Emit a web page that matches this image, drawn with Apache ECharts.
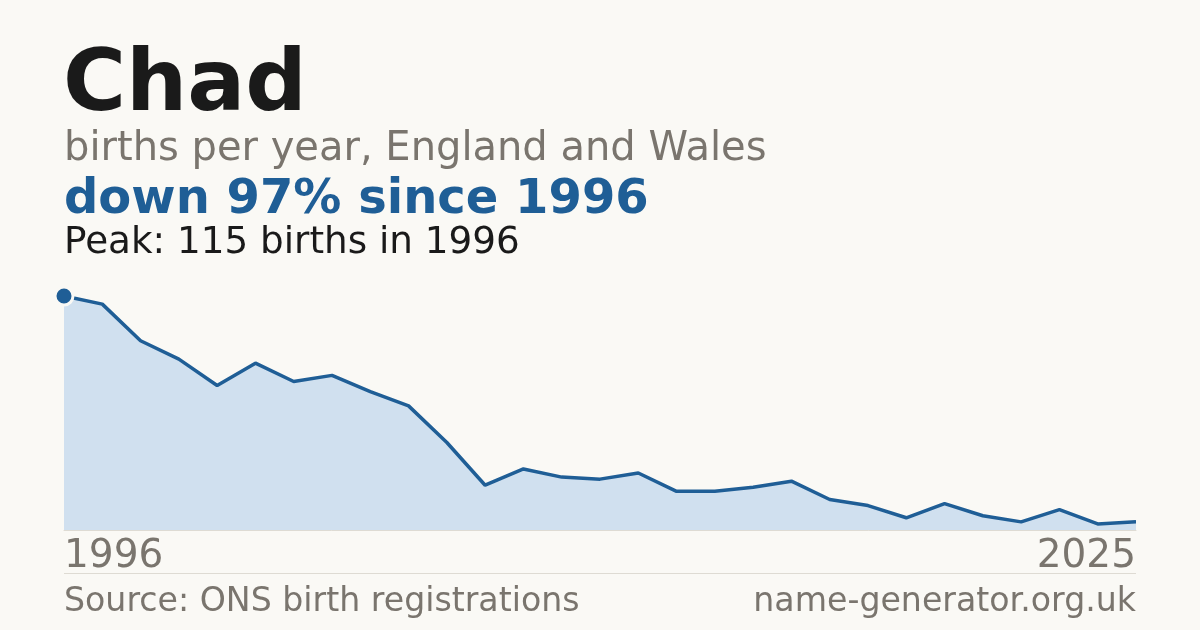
<!DOCTYPE html>
<html>
<head>
<meta charset="utf-8">
<title>Chad births</title>
<script src="https://cdn.jsdelivr.net/npm/echarts@6/dist/echarts.min.js"></script>
<style>
  html, body { margin: 0; padding: 0; background: #faf9f5; }
  #main { width: 1200px; height: 630px; }
</style>
</head>
<body>
<div id="main"></div>
<script type="text/javascript">
    // years shown (only first and last get a label)
    var years = [1996, 1997, 1998, 1999, 2000, 2001, 2002, 2003, 2004, 2005,
                 2006, 2007, 2008, 2009, 2010, 2011, 2012, 2013, 2014, 2015,
                 2016, 2017, 2018, 2019, 2020, 2022, 2023, 2024, 2025];
    // births per year
    var births = [115, 111, 93, 84, 71, 82, 73, 76, 68, 61,
                  43, 22, 30, 26, 25, 28, 19, 19, 21, 24,
                  15, 12, 6, 13, 7, 4, 10, 3, 4];

    var bg = '#faf9f5';
    var blue = '#1f5e96';
    var grey = '#7a756e';
    var font = 'DejaVu Sans';

    var peak = Math.max.apply(null, births);
    var peakIdx = births.indexOf(peak);

    var myChart = echarts.init(document.getElementById('main'));

    var option = {
        backgroundColor: bg,
        animation: false,
        title: [{
            text: 'Chad',
            left: 63, top: 45, padding: 0,
            textStyle: { fontFamily: font, fontSize: 86, fontWeight: 'bold', color: '#1a1a1a' }
        }, {
            text: 'births per year, England and Wales',
            left: 64, top: 130, padding: 0,
            textStyle: { fontFamily: font, fontSize: 40, fontWeight: 'normal', color: grey }
        }, {
            text: 'down 97% since 1996',
            left: 64, top: 177, padding: 0,
            textStyle: { fontFamily: font, fontSize: 48, fontWeight: 'bold', color: blue }
        }, {
            text: 'Peak: ' + peak + ' births in ' + years[peakIdx],
            left: 64, top: 225, padding: 0,
            textStyle: { fontFamily: font, fontSize: 37.3, fontWeight: 'normal', color: '#1a1a1a' }
        }, {
            text: 'Source: ONS birth registrations',
            left: 64, top: 586, padding: 0,
            textStyle: { fontFamily: font, fontSize: 33.2, fontWeight: 'normal', color: grey }
        }, {
            text: 'name-generator.org.uk',
            right: 64, top: 586, padding: 0,
            textStyle: { fontFamily: font, fontSize: 33.2, fontWeight: 'normal', color: grey }
        }],
        graphic: [{
            type: 'line',
            shape: { x1: 64, y1: 573.5, x2: 1136, y2: 573.5 },
            style: { stroke: '#dedbd3', lineWidth: 1 }
        }],
        grid: { left: 64, right: 64, top: 296, bottom: 100, containLabel: false },
        xAxis: {
            type: 'category',
            data: years,
            boundaryGap: false,
            axisLine: { lineStyle: { color: '#dedbd3', width: 1 } },
            axisTick: { show: false },
            axisLabel: {
                interval: function (i) { return i === 0 || i === years.length - 1; },
                margin: 7,
                fontFamily: font,
                fontSize: 39,
                color: grey,
                alignMinLabel: 'left',
                alignMaxLabel: 'right'
            }
        },
        yAxis: {
            type: 'value',
            min: 0,
            max: peak,
            show: false,
            splitLine: { show: false }
        },
        series: [{
            type: 'line',
            symbol: 'none',
            lineStyle: { color: blue, width: 3.5 },
            areaStyle: { color: '#d0e0ef', opacity: 1 },
            data: births.map(function (v, i) {
                if (i !== peakIdx) return v;
                return {
                    value: v,
                    symbol: 'circle',
                    symbolSize: 18,
                    itemStyle: { color: blue, borderColor: bg, borderWidth: 3 }
                };
            })
        }]
    };

    myChart.setOption(option);
</script>
</body>
</html>
